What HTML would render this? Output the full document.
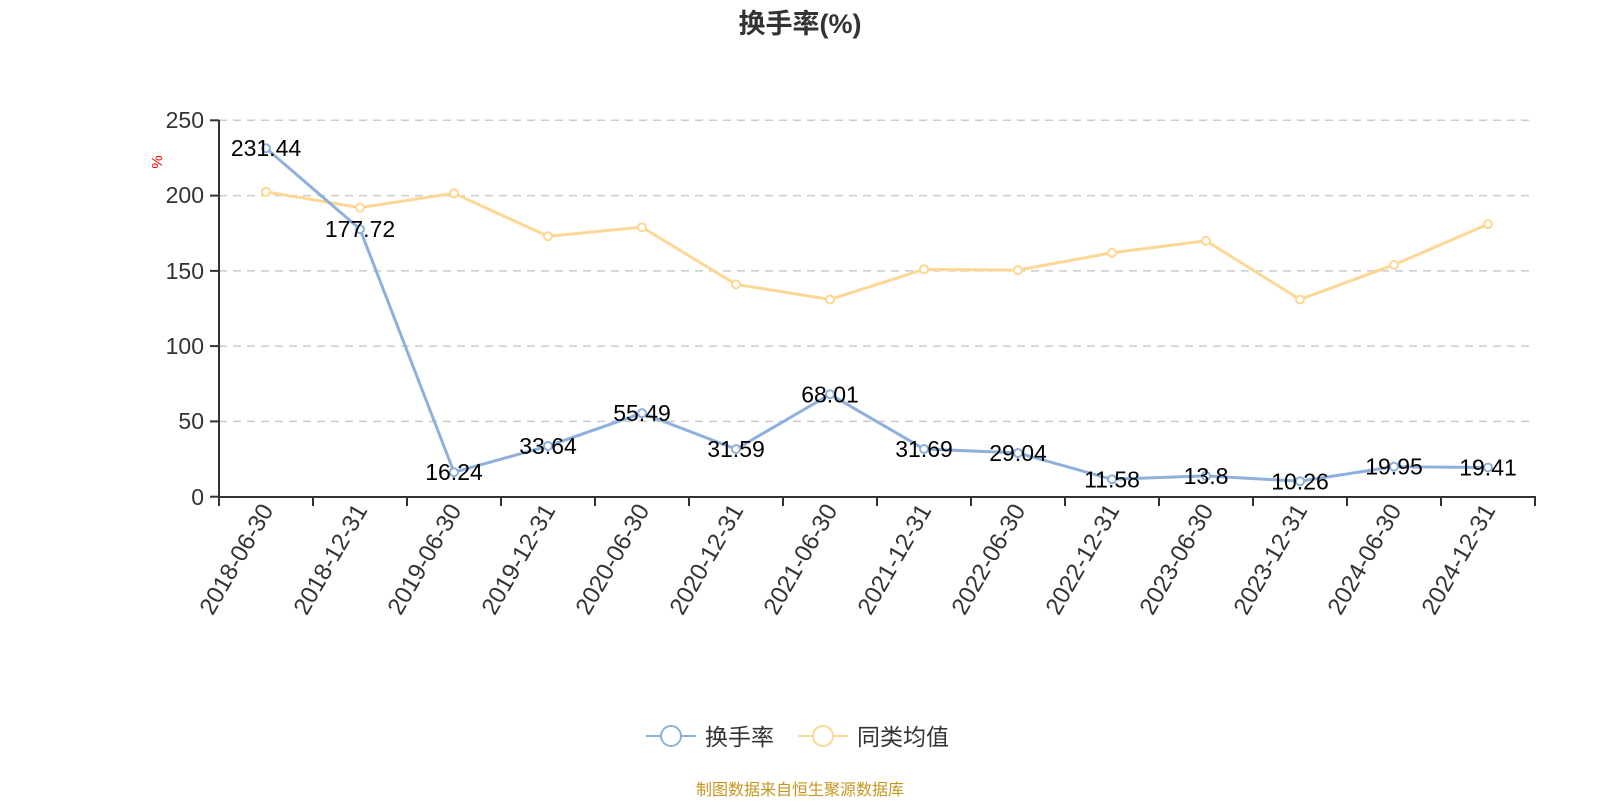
<!DOCTYPE html>
<html><head><meta charset="utf-8"><style>
body{margin:0;background:#fff;width:1600px;height:800px;overflow:hidden}
text{font-family:"Liberation Sans","Noto Sans CJK SC",sans-serif}
</style></head><body>
<svg width="1600" height="800" xmlns="http://www.w3.org/2000/svg">
<text x="800" y="33" text-anchor="middle" font-size="27" font-weight="bold" fill="#333">换手率(%)</text>
<g stroke="#ccc" stroke-width="1.5" stroke-dasharray="8,6">
<line x1="219" x2="1535" y1="120.3" y2="120.3"/>
<line x1="219" x2="1535" y1="195.6" y2="195.6"/>
<line x1="219" x2="1535" y1="270.9" y2="270.9"/>
<line x1="219" x2="1535" y1="346.1" y2="346.1"/>
<line x1="219" x2="1535" y1="421.4" y2="421.4"/>
</g>
<g stroke="#333" stroke-width="2">
<line x1="219" x2="219" y1="120" y2="497"/>
<line x1="219" x2="1536" y1="497" y2="497"/>
<line x1="210" x2="219" y1="120.3" y2="120.3"/><line x1="210" x2="219" y1="195.6" y2="195.6"/><line x1="210" x2="219" y1="270.9" y2="270.9"/><line x1="210" x2="219" y1="346.1" y2="346.1"/><line x1="210" x2="219" y1="421.4" y2="421.4"/><line x1="210" x2="219" y1="496.7" y2="496.7"/>
</g>
<g font-size="23" fill="#333" text-anchor="end">
<text x="204" y="128">250</text><text x="204" y="203">200</text><text x="204" y="279">150</text><text x="204" y="354">100</text><text x="204" y="429">50</text><text x="204" y="505">0</text>
</g>
<text x="0" y="0" font-size="15" fill="red" transform="translate(162,162) rotate(-90)" text-anchor="middle">%</text>
<g id="ticks" stroke="#333" stroke-width="2"></g>
<g id="xl" font-size="24" fill="#333"></g>
<polyline id="y" fill="none" stroke="#fdd795" stroke-width="3"/>
<polyline id="b" fill="none" stroke="#8eb0dc" stroke-width="3"/>
<g id="pts"></g>
<g id="lbl" font-size="23" fill="#000" text-anchor="middle"></g>
<line x1="646" x2="696" y1="736" y2="736" stroke="#8eb0dc" stroke-width="2"/><circle cx="671" cy="736" r="10" fill="#fff" stroke="#8eb0dc" stroke-width="2"/>
<text x="705" y="745" font-size="23" fill="#333">换手率</text>
<line x1="798" x2="848" y1="736" y2="736" stroke="#fdd795" stroke-width="2"/><circle cx="823" cy="736" r="10" fill="#fff" stroke="#fdd795" stroke-width="2"/>
<text x="857" y="745" font-size="23" fill="#333">同类均值</text>
<text x="800" y="795" font-size="16" fill="#c8961e" text-anchor="middle">制图数据来自恒生聚源数据库</text>
</svg>
<script>
var d=["2018-06-30","2018-12-31","2019-06-30","2019-12-31","2020-06-30","2020-12-31","2021-06-30","2021-12-31","2022-06-30","2022-12-31","2023-06-30","2023-12-31","2024-06-30","2024-12-31"];
var b=[231.44,177.72,16.24,33.64,55.49,31.59,68.01,31.69,29.04,11.58,13.8,10.26,19.95,19.41];
var b2=["231.44","177.72","16.24","33.64","55.49","31.59","68.01","31.69","29.04","11.58","13.8","10.26","19.95","19.41"];
var yv=[202.5,192,201.5,173,179,141,131,151,150.5,162,170,131,154,181];
var ns="http://www.w3.org/2000/svg";
function X(i){return 266+94*i}function Y(v){return 496.7-v*1.5056}
function el(p,t,a,tx){var e=document.createElementNS(ns,t);for(var k in a)e.setAttribute(k,a[k]);if(tx)e.textContent=tx;document.getElementById(p).appendChild(e);}
var pb=[],py=[];
for(var i=0;i<14;i++){pb.push(X(i)+","+Y(b[i]));py.push(X(i)+","+Y(yv[i]));}
document.getElementById("b").setAttribute("points",pb.join(" "));
document.getElementById("y").setAttribute("points",py.join(" "));
for(var i=0;i<=14;i++)el("ticks","line",{x1:219+94*i,x2:219+94*i,y1:497,y2:506});
for(var i=0;i<14;i++){
el("xl","text",{transform:"translate("+(X(i)+8)+",510) rotate(-60)","text-anchor":"end"},d[i]);
el("pts","circle",{cx:X(i),cy:Y(yv[i]),r:4,fill:"#fff",stroke:"#fdd795","stroke-width":2});
el("pts","circle",{cx:X(i),cy:Y(b[i]),r:4,fill:"#fff",stroke:"#8eb0dc","stroke-width":2});
el("lbl","text",{x:X(i),y:Y(b[i])+8},b2[i]);
}
</script>
</body></html>
